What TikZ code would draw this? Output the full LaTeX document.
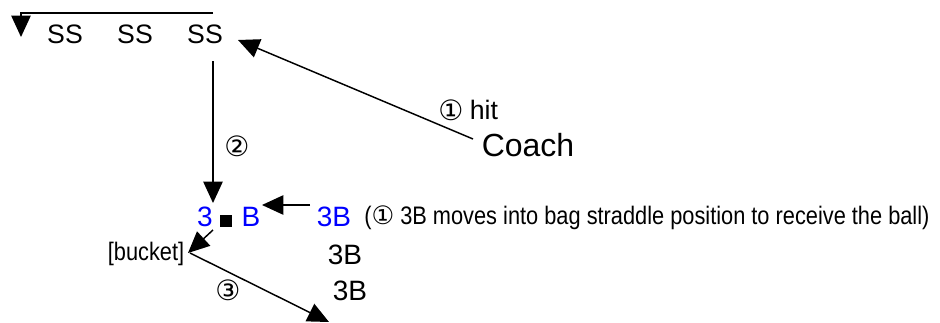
\documentclass[tikz,border=0pt]{standalone}
\usepackage{fontspec}
\setmainfont{Liberation Sans}
\newfontfamily\narrowfont[FakeStretch=0.86]{Liberation Sans}
\newfontfamily\symfont{DejaVu Sans}
\usetikzlibrary{arrows.meta}
\definecolor{pblue}{RGB}{0,0,255}
\begin{document}
\begin{tikzpicture}[x=0.75pt,y=-0.75pt,
  arr/.style={line width=1.1pt,-{Triangle[width=14.5pt,length=16pt]}},
  big/.style={inner sep=0pt,font=\fontsize{20pt}{24pt}\selectfont},
  bigger/.style={inner sep=0pt,font=\fontsize{21pt}{25pt}\selectfont},
  huge/.style={inner sep=0pt,font=\fontsize{24pt}{28pt}\selectfont},
  small/.style={inner sep=0pt,font=\narrowfont\fontsize{19pt}{23pt}\selectfont},
  circ/.style={inner sep=0pt,font=\symfont\fontsize{21pt}{25pt}\selectfont},
  blue3/.style={bigger,text=pblue}]
\useasboundingbox (0,0) rectangle (940,322);
% top row
\node[big] (ss1) at (65,34) {SS};
\node[big] (ss2) at (135,34) {SS};
\node[big] (ss3) at (205,34) {SS};
\coordinate (tr) at (213,13);
\coordinate (tl) at (21,13);
\coordinate (td) at (21,37);
\draw[arr] (tr) -- (tl) -- (td);
% coach
\node[huge] (coach) at (528,145) {Coach};
\node[circ] (c1) at (451,110) {①};
\node[big] (hit) at (484,110) {hit};
\coordinate (cs) at (473,139);
\coordinate (ct) at (238,40);
\draw[arr] (cs) -- (ct);
% vertical
\coordinate (vs) at (213,61);
\coordinate (vt) at (213,203);
\draw[arr] (vs) -- (vt);
\node[circ] (c2) at (237,146) {②};
% row at third base
\node[blue3] (three) at (205,217) {3};
\node[fill=black,inner sep=0pt,minimum size=9.5pt] (sq) at (226,221) {};
\node[blue3] (bb) at (251,217) {B};
\coordinate (bs) at (310,205);
\coordinate (bt) at (262,205);
\draw[arr] (bs) -- (bt);
\node[blue3] (tb1) at (334,217) {3B};
\node[small,anchor=west] (note) at (364,218) {({\symfont ①} 3B moves into bag straddle position to receive the ball)};
% bucket
\node[small] (bucket) at (146,254) {[bucket]};
\coordinate (ks) at (213,230);
\coordinate (kt) at (188,253);
\draw[arr] (ks) -- (kt);
\coordinate (ms) at (190,253);
\coordinate (mt) at (329,322);
\draw[arr] (ms) -- (mt);
\node[circ] (c3) at (228,290) {③};
\node[bigger] (tb2) at (345,255) {3B};
\node[bigger] (tb3) at (350,291) {3B};
\end{tikzpicture}
\end{document}
